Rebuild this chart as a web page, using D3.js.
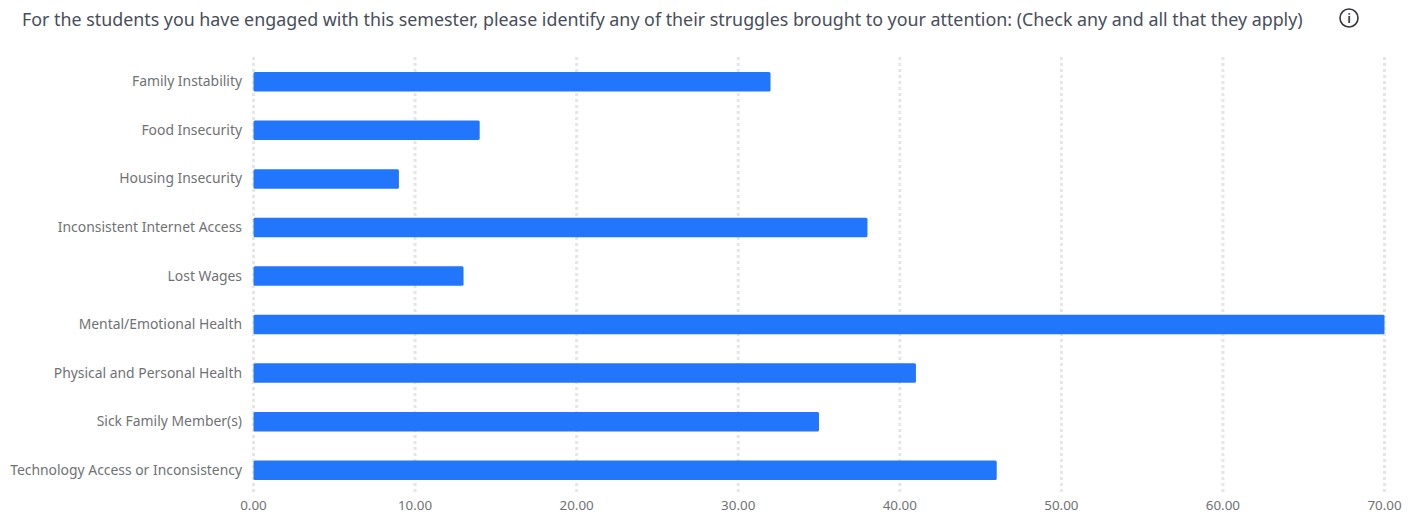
<!DOCTYPE html>
<html><head><meta charset="utf-8">
<script src="https://cdn.jsdelivr.net/npm/d3@7/dist/d3.min.js"></script>
<style>
html,body{margin:0;padding:0;background:#fff}
svg{display:block}
text{font-family:"Noto Sans","Open Sans",sans-serif}
</style></head><body>
<svg id="c" width="1418" height="514"></svg>
<script>
const titleText = "For the students you have engaged with this semester, please identify any of their struggles brought to your attention: (Check any and all that they apply)";
const categories = ["Family Instability","Food Insecurity","Housing Insecurity","Inconsistent Internet Access","Lost Wages","Mental/Emotional Health","Physical and Personal Health","Sick Family Member(s)","Technology Access or Inconsistency"];
const values = [32,14,9,38,13,70,41,35,46];
const tickValues = [0,10,20,30,40,50,60,70];

const svg = d3.select("#c");
const x = d3.scaleLinear().domain([0,70]).range([253.5,1384.5]);
const y = d3.scaleBand().domain(categories).range([57.5,494.5]).paddingInner(0.6).paddingOuter(0.3);
const bandH = 19.5;
const yc = c => y(c)+y.bandwidth()/2;

svg.append("text").attr("x",22).attr("y",26).attr("font-size",17.83).attr("fill","#474e5a").text(titleText);

const ic = svg.append("g").attr("transform","translate(1349,18)");
ic.append("circle").attr("r",9).attr("fill","none").attr("stroke","#32363a").attr("stroke-width",1.6);
ic.append("text").attr("text-anchor","middle").attr("y",5).attr("font-size",13).attr("font-weight",600).attr("fill","#32363a").text("i");

svg.append("g").selectAll("line").data(tickValues).join("line")
  .attr("x1",d=>x(d)).attr("x2",d=>x(d)).attr("y1",57).attr("y2",494)
  .attr("stroke","#e6e6e6").attr("stroke-width",3).attr("stroke-dasharray","3 3");

svg.append("g").selectAll("rect").data(values).join("rect")
  .attr("x",x(0)).attr("y",(d,i)=>yc(categories[i])-bandH/2)
  .attr("width",d=>x(d)-x(0)).attr("height",bandH)
  .attr("rx",1.5).attr("fill","#2276fc");

svg.append("g").selectAll("text").data(categories).join("text")
  .attr("x",242).attr("y",d=>yc(d)+4.6).attr("text-anchor","end")
  .attr("font-size",13.9).attr("fill","#6f7275").text(d=>d);

svg.append("g").selectAll("text").data(tickValues).join("text")
  .attr("x",d=>x(d)).attr("y",510).attr("text-anchor","middle")
  .attr("font-size",13.4).attr("fill","#6f7275").text(d=>d3.format(".2f")(d));
</script></body></html>
